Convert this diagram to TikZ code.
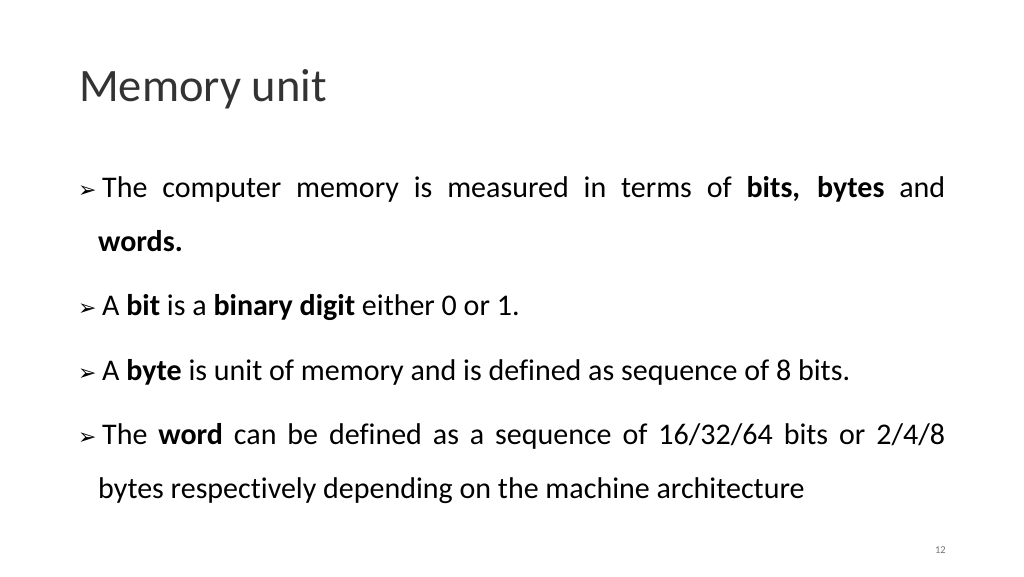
\documentclass[tikz,border=0pt]{standalone}
\usepackage{fontspec}
\setmainfont[Ligatures={NoCommon}]{Carlito}
\newfontfamily\symfont{DejaVu Sans}
\begin{document}
\begin{tikzpicture}[x=1pt,y=1pt,
  txt/.style={anchor=base west,inner sep=0pt,font=\fontsize{30}{34}\selectfont},
  bul/.style={anchor=base west,inner sep=0pt,font=\symfont\fontsize{22}{26}\selectfont}]
\useasboundingbox (0,0) rectangle (1024,-576);
\node[anchor=base west,inner sep=0pt,font=\fontsize{46.5}{52}\selectfont,text=black!80] (title) at (79,-101) {Memory unit};
\node[bul] (b1) at (78,-197) {➢};
\node[txt] (l1) at (102,-197) {\makebox[843pt][s]{The computer memory is measured in terms of \textbf{bits, bytes} and}};
\node[txt] (l2) at (98,-251) {\textbf{words.}};
\node[bul] (b2) at (78,-315) {➢};
\node[txt] (l3) at (102,-315) {A \textbf{bit} is a \textbf{binary digit} either 0 or 1.};
\node[bul] (b3) at (78,-380) {➢};
\node[txt] (l4) at (102,-380) {A \textbf{byte} is unit of memory and is defined as sequence of 8 bits.};
\node[bul] (b4) at (78,-444) {➢};
\node[txt] (l5) at (102,-444) {\makebox[843pt][s]{The \textbf{word} can be defined as a sequence of 16/32/64 bits or 2/4/8}};
\node[txt] (l6) at (98,-498) {bytes respectively depending on the machine architecture};
\node[anchor=base east,inner sep=0pt,font=\fontsize{10.5}{12}\selectfont,text=black!55] (pg) at (946,-553) {12};
\end{tikzpicture}
\end{document}
